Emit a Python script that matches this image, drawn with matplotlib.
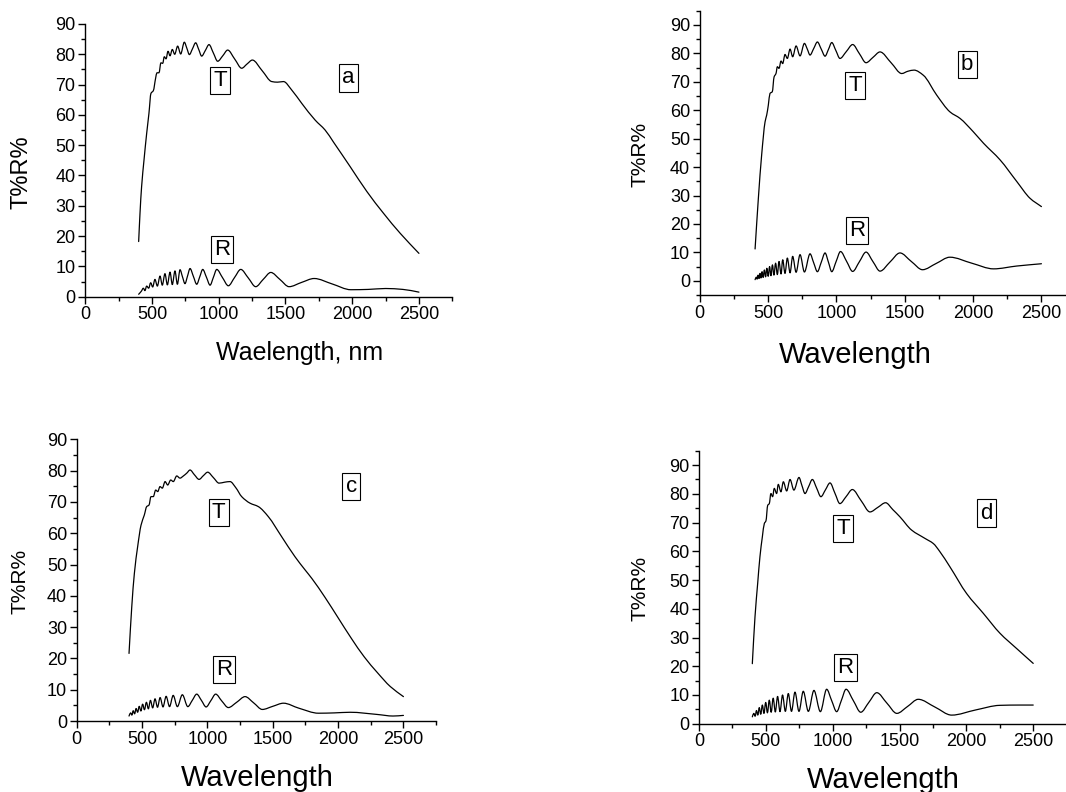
import matplotlib
matplotlib.use("Agg")
import matplotlib.pyplot as plt
from matplotlib.ticker import MultipleLocator
from matplotlib.path import Path
from matplotlib.patches import PathPatch

plt.rcParams['font.family'] = ['Liberation Sans', 'DejaVu Sans']

# ---------------- panel a ----------------
a_T_x = [400, 410, 422, 440, 460, 477, 492, 510, 527, 537, 552, 567, 580, 592, 605, 620, 635, 652,
         670, 692, 715, 742, 761, 780, 803, 827, 850, 872, 900, 927, 960, 992, 1030, 1067, 1120, 1172,
         1212, 1252, 1325, 1397, 1440, 1485, 1547, 1622, 1722, 1797, 1860, 1985, 2110, 2235, 2360, 2500]
a_T_y = [18.2, 27.5, 36.3, 45.1, 53.9, 60.5, 67.1, 68.0, 72.1, 73.9, 73.9, 77.2, 77.0, 79.2, 78.5, 81.0,
         79.5, 81.6, 80.0, 82.7, 80.1, 84.0, 82.0, 79.9, 81.8, 83.8, 81.6, 79.4, 81.3, 83.2, 80.4, 77.7,
         79.5, 81.4, 78.4, 75.4, 76.8, 78.1, 74.6, 71.0, 70.8, 71.0, 68.2, 63.8, 58.3, 55.0, 51.0, 42.9,
         34.7, 27.5, 20.9, 14.3]
a_R_x = [400, 420, 435, 447, 460, 475, 490, 505, 522, 540, 560, 577, 597, 615, 635, 652, 672, 690, 710,
         728, 747, 766, 785, 810, 835, 858, 880, 908, 935, 960, 985, 1028, 1072, 1118, 1165, 1221, 1277,
         1333, 1390, 1458, 1527, 1620, 1715, 1850, 1990, 2120, 2250, 2380, 2500]
a_R_y = [0.8, 1.8, 2.8, 2.0, 3.5, 2.8, 4.6, 3.2, 5.7, 3.5, 6.8, 3.8, 7.6, 3.9, 8.1, 4.0, 8.5, 4.1, 8.9,
         6.6, 4.3, 6.8, 9.3, 6.7, 4.1, 6.6, 9.0, 6.4, 3.8, 6.4, 9.0, 6.3, 3.6, 6.3, 9.0, 6.2, 3.3,
         5.7, 8.0, 5.7, 3.3, 4.7, 6.0, 4.2, 2.3, 2.4, 2.7, 2.4, 1.5]

# ---------------- panel b ----------------
b_T_x = [405, 429, 453, 478, 490, 502, 514, 531, 544, 558, 568, 580, 595, 607, 624, 641, 661, 680, 705,
         734, 766, 787, 807, 834, 861, 889, 917, 942, 966, 996, 1026, 1072, 1119, 1168, 1217, 1268, 1319,
         1400, 1478, 1523, 1568, 1636, 1734, 1831, 1905, 2000, 2076, 2198, 2320, 2417, 2500]
b_T_y = [11.2, 29.0, 44.2, 55.9, 58.3, 61.8, 65.9, 66.5, 71.7, 72.9, 75.3, 74.7, 77.3, 76.4, 79.6, 78.2,
         81.5, 78.8, 82.6, 79.1, 83.5, 81.5, 79.4, 81.7, 84.0, 81.5, 79.0, 81.4, 83.8, 81.0, 78.2, 80.6,
         83.1, 79.9, 76.7, 78.6, 80.5, 76.7, 72.9, 73.7, 74.1, 72.3, 65.3, 59.4, 57.1, 52.5, 48.4, 42.5,
         34.9, 29.0, 26.1]
b_R_x = [405, 414, 420, 427, 434, 441, 448, 456, 464, 473, 482, 491, 501, 511, 521, 532, 543, 555, 568,
         580, 595, 607, 624, 641, 661, 680, 705, 734, 766, 807, 834, 861, 889, 917, 942, 966, 998, 1030,
         1075, 1119, 1168, 1217, 1268, 1319, 1392, 1465, 1548, 1630, 1730, 1830, 1990, 2150, 2320, 2500]
b_R_y = [0.4, 1.3, 0.6, 2.0, 0.8, 2.6, 1.0, 3.2, 1.2, 3.8, 1.4, 4.4, 1.6, 5.0, 1.8, 5.6, 2.0, 6.2, 2.2,
         6.8, 2.4, 7.4, 2.6, 8.0, 2.8, 8.6, 3.0, 9.2, 3.1, 9.5, 6.3, 3.2, 6.5, 9.8, 6.5, 3.2, 6.8, 10.3,
         6.8, 3.3, 6.7, 10.1, 6.7, 3.4, 6.6, 9.8, 6.8, 3.9, 6.1, 8.3, 6.2, 4.2, 5.2, 6.0]

# ---------------- panel c ----------------
c_T_x = [400, 421, 441, 466, 492, 517, 535, 553, 568, 586, 604, 620, 637, 655, 676, 696, 719, 739, 765,
         790, 816, 842, 867, 900, 936, 969, 1002, 1045, 1089, 1131, 1173, 1218, 1262, 1326, 1390, 1466,
         1568, 1670, 1747, 1800, 1900, 2000, 2100, 2200, 2300, 2400, 2500]
c_T_y = [21.6, 36.5, 47.2, 55.7, 62.6, 65.8, 68.5, 69.0, 71.7, 71.7, 73.8, 73.3, 74.9, 74.4, 76.5, 75.4,
         77.0, 76.5, 78.3, 77.6, 78.3, 79.2, 80.2, 78.7, 77.2, 78.4, 79.5, 77.8, 76.0, 76.3, 76.5, 74.5,
         71.7, 69.6, 68.5, 65.3, 58.9, 52.5, 48.3, 45.5, 39.5, 33.0, 26.5, 20.5, 15.5, 11.0, 7.8]
c_R_x = [400, 412, 422, 432, 443, 454, 466, 478, 491, 504, 518, 533, 548, 564, 581, 599, 618, 638, 660,
         684, 710, 738, 770, 808, 850, 884, 918, 954, 990, 1026, 1063, 1110, 1160, 1224, 1288, 1354,
         1420, 1500, 1582, 1700, 1850, 1970, 2092, 2300, 2420, 2500]
c_R_y = [1.6, 2.6, 1.9, 3.3, 2.3, 4.0, 2.8, 4.7, 3.2, 5.4, 3.6, 6.0, 3.9, 6.6, 4.2, 7.1, 4.4, 7.5, 4.5,
         7.9, 4.6, 8.2, 4.6, 8.4, 4.6, 6.6, 8.6, 6.6, 4.5, 6.5, 8.6, 6.4, 4.3, 6.0, 7.8, 5.8, 3.7, 4.7,
         5.7, 4.1, 2.5, 2.6, 2.8, 2.1, 1.6, 1.8]

# ---------------- panel d ----------------
d_T_x = [399, 419, 439, 456, 474, 489, 501, 514, 526, 538, 551, 563, 581, 593, 613, 631, 656, 681, 710,
         748, 770, 793, 820, 848, 880, 912, 946, 980, 1017, 1054, 1100, 1147, 1213, 1279, 1338, 1396,
         1450, 1503, 1590, 1690, 1753, 1800, 1877, 2002, 2127, 2251, 2380, 2500]
d_T_y = [20.9, 37.2, 48.8, 58.1, 65.0, 69.7, 70.6, 76.0, 76.6, 80.1, 79.0, 81.9, 80.1, 83.3, 80.7, 84.2,
         81.0, 85.0, 81.3, 85.7, 82.9, 80.1, 82.5, 85.0, 82.0, 79.0, 81.4, 83.8, 80.2, 76.6, 79.0, 81.5,
         77.6, 73.7, 75.3, 76.9, 74.5, 72.0, 67.4, 64.5, 62.7, 60.0, 54.6, 45.3, 38.4, 31.5, 26.0, 21.0]
d_R_x = [399, 410, 420, 430, 440, 451, 462, 474, 486, 499, 512, 526, 540, 555, 571, 588, 606, 625, 646,
         668, 692, 718, 748, 780, 818, 860, 908, 955, 992, 1030, 1065, 1100, 1155, 1210, 1270, 1330,
         1405, 1480, 1560, 1640, 1765, 1890, 2070, 2250, 2400, 2500]
d_R_y = [2.4, 3.6, 2.6, 4.6, 3.0, 5.6, 3.3, 6.5, 3.6, 7.4, 3.8, 8.2, 4.0, 8.9, 4.1, 9.5, 4.2, 10.0, 4.3,
         10.5, 4.3, 11.0, 4.3, 11.3, 4.3, 11.6, 4.2, 12.0, 8.1, 4.2, 8.1, 12.0, 8.0, 4.0, 7.4, 10.8,
         7.2, 3.6, 6.0, 8.5, 5.8, 3.0, 4.8, 6.4, 6.5, 6.5]

panels = [
    dict(key='a', rect=[0.0800, 0.6254, 0.3443, 0.3443], ylim=(0, 90),
         T=(a_T_x, a_T_y), R=(a_R_x, a_R_y),
         T_lab=(1010, 71.4), R_lab=(1025, 15.7), k_lab=(1970, 72.2),
         ylab=(22, 172, 17), xlab=('Waelength, nm', 300, 360, 18)),
    dict(key='b', rect=[0.6564, 0.6275, 0.3526, 0.3590], ylim=(-5, 95),
         T=(b_T_x, b_T_y), R=(b_R_x, b_R_y),
         T_lab=(1137, 68.6), R_lab=(1150, 17.6), k_lab=(1957, 76.0),
         ylab=(640, 154, 15), xlab=('Wavelength', 855, 363, 21)),
    dict(key='c', rect=[0.0720, 0.0896, 0.3371, 0.3557], ylim=(0, 90),
         T=(c_T_x, c_T_y), R=(c_R_x, c_R_y),
         T_lab=(1087, 66.5), R_lab=(1125, 16.4), k_lab=(2100, 75.0),
         ylab=(20, 581, 15), xlab=('Wavelength', 257, 786, 21)),
    dict(key='d', rect=[0.6557, 0.0862, 0.3449, 0.3447], ylim=(0, 95),
         T=(d_T_x, d_T_y), R=(d_R_x, d_R_y),
         T_lab=(1080, 68.0), R_lab=(1096, 19.7), k_lab=(2149, 73.3),
         ylab=(640, 588, 15), xlab=('Wavelength', 883, 788, 21)),
]


def smooth_curve(ax, xs, ys, **kw):
    """Draw the read points joined by a smooth (shape-preserving cubic) line."""
    n = len(xs)
    d = [(ys[i + 1] - ys[i]) / (xs[i + 1] - xs[i]) for i in range(n - 1)]
    m = [0.0] * n
    m[0], m[-1] = d[0], d[-1]
    for i in range(1, n - 1):
        if d[i - 1] * d[i] > 0:
            m[i] = 2.0 / (1.0 / d[i - 1] + 1.0 / d[i])
    verts = [(xs[0], ys[0])]
    codes = [Path.MOVETO]
    for i in range(n - 1):
        h = xs[i + 1] - xs[i]
        verts += [(xs[i] + h / 3, ys[i] + m[i] * h / 3),
                  (xs[i + 1] - h / 3, ys[i + 1] - m[i + 1] * h / 3),
                  (xs[i + 1], ys[i + 1])]
        codes += [Path.CURVE4] * 3
    ax.add_patch(PathPatch(Path(verts, codes), fill=False, transform=ax.transData,
                           capstyle='round', joinstyle='round', **kw))


W, H = 1066, 792
fig = plt.figure(figsize=(W / 100, H / 100), dpi=100)

box = dict(boxstyle='square,pad=0.14', fc='white', ec='black', lw=0.8)

for p in panels:
    ax = fig.add_axes(p['rect'])
    smooth_curve(ax, *p['T'], edgecolor='black', lw=0.9)
    smooth_curve(ax, *p['R'], edgecolor='black', lw=0.9)
    ax.set_xlim(0, 2750)
    ax.set_ylim(*p['ylim'])
    ax.xaxis.set_minor_locator(MultipleLocator(250))
    ax.yaxis.set_minor_locator(MultipleLocator(5))
    ax.set_xticks([0, 500, 1000, 1500, 2000, 2500])
    ax.set_yticks(list(range(0, 91, 10)))
    for s in ('top', 'right'):
        ax.spines[s].set_visible(False)
    for s in ('left', 'bottom'):
        ax.spines[s].set_linewidth(1.0)
    ax.tick_params(which='major', direction='out', length=5, width=1.0,
                   labelsize=13, pad=2)
    ax.tick_params(which='minor', direction='out', length=3, width=1.0)
    ax.patch.set_alpha(0)
    ax.text(*p['T_lab'], 'T', fontsize=16, ha='center', va='center', bbox=box)
    ax.text(*p['R_lab'], 'R', fontsize=16, ha='center', va='center', bbox=box)
    ax.text(*p['k_lab'], p['key'], fontsize=16, ha='center', va='center', bbox=box)
    yx, yy, ys = p['ylab']
    fig.text(yx / W, 1 - yy / H, 'T%R%', rotation=90, fontsize=ys, ha='center', va='center')
    t, xx, xy, xs = p['xlab']
    fig.text(xx / W, 1 - xy / H, t, fontsize=xs, ha='center', va='baseline')

fig.savefig('out.png', dpi=100)
